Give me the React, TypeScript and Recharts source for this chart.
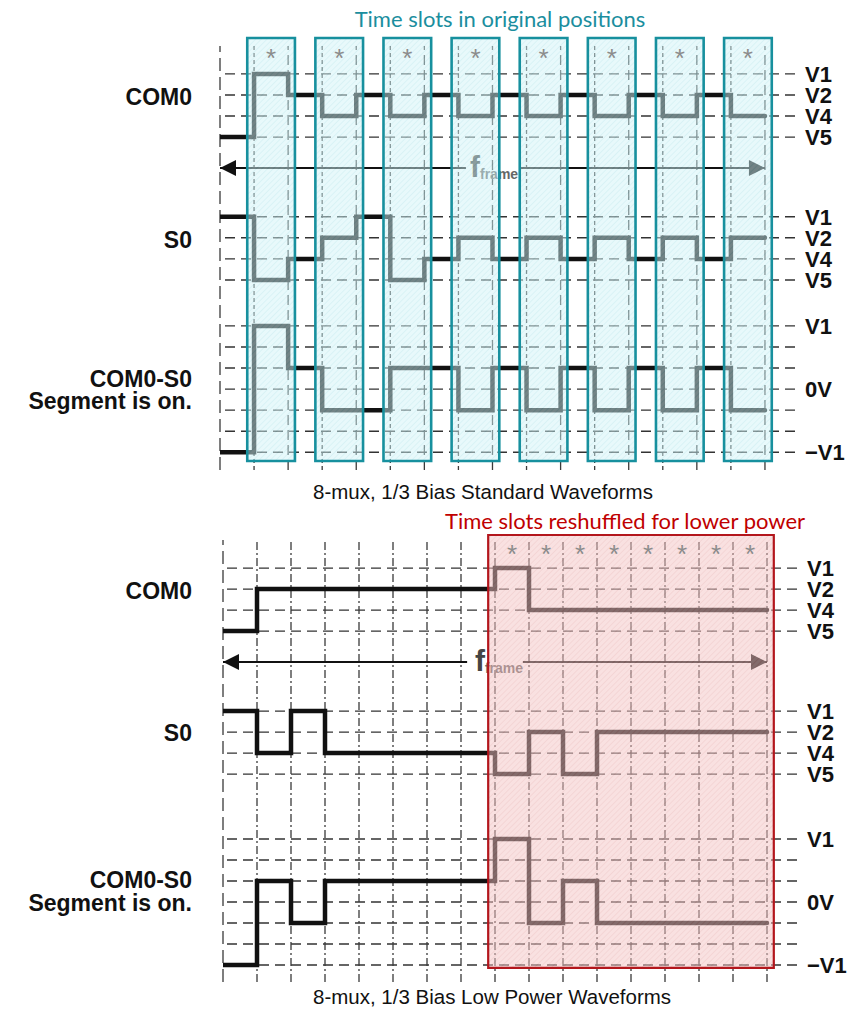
import React from "react";
import {
  ComposedChart,
  Line,
  XAxis,
  YAxis,
  ReferenceLine,
  ReferenceArea,
  ReferenceDot,
} from "recharts";

// levels: 0 = V5, 1 = V4, 2 = V2, 3 = V1 (one entry per half slot)
const stdCom0 = [0, 3, 2, 1, 2, 1, 2, 1, 2, 1, 2, 1, 2, 1, 2, 1];
const stdS0 = [3, 0, 1, 2, 3, 0, 1, 2, 1, 2, 1, 2, 1, 2, 1, 2];
const stdDiff = [-3, 3, 1, -1, -1, 1, 1, -1, 1, -1, 1, -1, 1, -1, 1, -1];

const lowCom0 = [0, 2, 2, 2, 2, 2, 2, 2, 3, 1, 1, 1, 1, 1, 1, 1];
const lowS0 = [3, 1, 3, 1, 1, 1, 1, 1, 0, 2, 0, 2, 2, 2, 2, 2];
const lowDiff = [-3, 1, -1, 1, 1, 1, 1, 1, 3, -1, 1, -1, -1, -1, -1, -1];

const driveLevels = [0, 1, 2, 3];
const driveNames = ["V5", "V4", "V2", "V1"];
const diffLevels = [-3, -2, -1, 0, 1, 2, 3];
const diffTicks = [3, 0, -3];
const diffNames = ["V1", "0V", "\u2212V1"];

// slots highlighted in the standard frame, and in the low power frame
const stdSlots = [1, 3, 5, 7, 9, 11, 13, 15];
const lowSlots = [8, 9, 10, 11, 12, 13, 14, 15];

const SLOTS = 16;

type Geometry = {
  height: number;
  plotTop: number;
  plotBottom: number;
  left: number;
  plotRight: number;
  xStep: number;
  yStep: number;
  com0Base: number;
  s0Base: number;
  diffBase: number;
  arrowY: number;
  starY: number;
  gridTop: number;
  boxBottom: number;
  frameX: number;
  arrowGap: [number, number];
};

type PanelProps = {
  geo: Geometry;
  com0: number[];
  s0: number[];
  diff: number[];
  variant: "teal" | "red";
};

function steps(levels: number[], base: number) {
  const pts = levels.map((v, i) => ({ x: i, y: base + v }));
  pts.push({ x: levels.length, y: base + levels[levels.length - 1] });
  return pts;
}

function Panel({ geo, com0, s0, diff, variant }: PanelProps) {
  const xMax = (geo.plotRight - geo.left) / geo.xStep;
  const yMax = (geo.plotBottom - geo.plotTop) / geo.yStep;

  const tickVals: number[] = [];
  const tickNames: string[] = [];
  [geo.com0Base, geo.s0Base].forEach((b) =>
    driveLevels.forEach((l, i) => {
      tickVals.push(b + l);
      tickNames.push(driveNames[i]);
    })
  );
  diffTicks.forEach((l, i) => {
    tickVals.push(geo.diffBase + l);
    tickNames.push(diffNames[i]);
  });

  const hLines = [
    ...driveLevels.map((l) => geo.com0Base + l),
    ...driveLevels.map((l) => geo.s0Base + l),
    ...diffLevels.map((l) => geo.diffBase + l),
  ];

  const renderTick = (p: any) => {
    let best = 0;
    tickVals.forEach((v, i) => {
      if (Math.abs(v - p.payload.value) < Math.abs(tickVals[best] - p.payload.value)) best = i;
    });
    return (
      <text x={p.x} y={p.y} dy={8} textAnchor="start" fontSize={22} fontWeight="bold" fill="#111">
        {tickNames[best]}
      </text>
    );
  };

  const teal = variant === "teal";
  const boxes: [number, number][] = teal
    ? stdSlots.map((s) => [s - 0.2, s + 1.2])
    : [[lowSlots[0] - 0.2, lowSlots[lowSlots.length - 1] + 1.2]];
  const stars = teal ? stdSlots : lowSlots;
  const patId = teal ? "hatch-teal" : "hatch-red";

  const vLine = (i: number) => {
    if (i === 0) return "13 6";
    if (teal) return i % 2 === 1 ? "4 3" : "10 5";
    return "8 3 2 3";
  };

  const lineProps = {
    dataKey: "y",
    type: "stepAfter" as const,
    stroke: "#111",
    strokeWidth: 4.5,
    strokeLinecap: "round" as const,
    dot: false,
    activeDot: false,
    isAnimationActive: false,
  };

  return (
    <ComposedChart
      width={853}
      height={geo.height}
      margin={{ top: geo.plotTop, bottom: geo.height - geo.plotBottom, left: geo.left, right: 0 }}
    >
      <defs>
        <pattern id="hatch-teal" width="4" height="4" patternUnits="userSpaceOnUse" patternTransform="rotate(45)">
          <rect width="4" height="4" fill="#d2f4f8" />
          <line x1="0" y1="0" x2="0" y2="4" stroke="#9fdbe3" strokeWidth="1.2" />
        </pattern>
        <pattern id="hatch-red" width="4" height="4" patternUnits="userSpaceOnUse" patternTransform="rotate(45)">
          <rect width="4" height="4" fill="#f4c4c4" />
          <line x1="0" y1="0" x2="0" y2="4" stroke="#e09a9a" strokeWidth="1.2" />
        </pattern>
      </defs>
      <XAxis dataKey="x" type="number" domain={[0, xMax]} allowDataOverflow hide />
      <YAxis
        orientation="right"
        type="number"
        domain={[0, yMax]}
        allowDataOverflow
        width={853 - geo.plotRight}
        ticks={tickVals}
        interval={0}
        tick={renderTick}
        tickSize={0}
        tickMargin={10}
        axisLine={false}
        tickLine={false}
      />

      {hLines.map((y, i) => (
        <ReferenceLine key={"h" + i} y={y} stroke="#333" strokeWidth={1.4} strokeDasharray="10 6" />
      ))}
      {Array.from({ length: SLOTS + 1 }, (_, i) => (
        <ReferenceLine
          key={"v" + i}
          segment={[
            { x: i, y: 0 },
            { x: i, y: geo.gridTop },
          ]}
          stroke="#3a3a3a"
          strokeWidth={1.3}
          strokeDasharray={vLine(i)}
        />
      ))}

      <ReferenceLine
        segment={[
          { x: 0, y: geo.arrowY },
          { x: geo.arrowGap[0], y: geo.arrowY },
        ]}
        stroke="#111"
        strokeWidth={2}
      />
      <ReferenceLine
        segment={[
          { x: geo.arrowGap[1], y: geo.arrowY },
          { x: SLOTS, y: geo.arrowY },
        ]}
        stroke="#111"
        strokeWidth={2}
      />
      <ReferenceDot
        x={0}
        y={geo.arrowY}
        r={0}
        shape={(p: any) => (
          <polygon points={`${p.cx},${p.cy} ${p.cx + 16},${p.cy - 8} ${p.cx + 16},${p.cy + 8}`} fill="#111" />
        )}
      />
      <ReferenceDot
        x={SLOTS}
        y={geo.arrowY}
        r={0}
        shape={(p: any) => (
          <polygon points={`${p.cx},${p.cy} ${p.cx - 16},${p.cy - 8} ${p.cx - 16},${p.cy + 8}`} fill="#111" />
        )}
      />
      <ReferenceDot
        x={geo.frameX}
        y={geo.arrowY}
        r={0}
        shape={(p: any) => (
          <text x={p.cx} y={p.cy + 9} fontSize={30} fontWeight="bold" fill="#444">
            f
            <tspan fontSize={14} dy={2} fill="#666">
              frame
            </tspan>
          </text>
        )}
      />

      <Line {...lineProps} data={steps(com0, geo.com0Base)} />
      <Line {...lineProps} data={steps(s0, geo.s0Base)} />
      <Line {...lineProps} data={steps(diff, geo.diffBase)} />

      {boxes.map(([x1, x2], i) => (
        <ReferenceArea
          key={"b" + i}
          x1={x1}
          x2={x2}
          y1={geo.boxBottom}
          y2={yMax}
          fill={`url(#${patId})`}
          fillOpacity={0.5}
          stroke={teal ? "#17909e" : "#b3161c"}
          strokeWidth={teal ? 2.6 : 2.2}
          zIndex={1500}
        />
      ))}

      {stars.map((s) => (
        <ReferenceDot
          key={"s" + s}
          x={s + 0.5}
          y={geo.starY}
          r={0}
          zIndex={1600}
          shape={(p: any) => (
            <text x={p.cx} y={p.cy + 11} textAnchor="middle" fontSize={26} fill="#8c8c8c">
              *
            </text>
          )}
        />
      ))}
    </ComposedChart>
  );
}

const stdGeo: Geometry = {
  height: 480,
  plotTop: 38,
  plotBottom: 470,
  left: 220,
  plotRight: 795,
  xStep: 34.06,
  yStep: 21.07,
  com0Base: 15.8,
  s0Base: 9.02,
  diffBase: 3.84,
  arrowY: 14.33,
  starY: 19.65,
  gridTop: 20.12,
  boxBottom: 0.43,
  frameX: 7.34,
  arrowGap: [7.22, 8.81],
};

const lowGeo: Geometry = {
  height: 500,
  plotTop: 35,
  plotBottom: 482,
  left: 223,
  plotRight: 797,
  xStep: 34.0,
  yStep: 21,
  com0Base: 16.71,
  s0Base: 9.9,
  diffBase: 3.81,
  arrowY: 15.24,
  starY: 20.48,
  gridTop: 21.05,
  boxBottom: 0.67,
  frameX: 7.41,
  arrowGap: [7.18, 8.82],
};

const abs = (left: number, top: number, extra: React.CSSProperties = {}): React.CSSProperties => ({
  position: "absolute",
  left,
  top,
  whiteSpace: "nowrap",
  ...extra,
});

const rowLabel: React.CSSProperties = {
  fontSize: 23,
  fontWeight: "bold",
  color: "#111",
  transform: "translate(-100%, -50%)",
};

export default function App() {
  return (
    <div
      style={{
        position: "absolute",
        left: 0,
        top: 0,
        width: 853,
        height: 1010,
        background: "#fff",
        fontFamily: '"Liberation Sans", Arial, sans-serif',
        overflow: "hidden",
      }}
    >
      <div style={abs(0, 0)}>
        <Panel geo={stdGeo} com0={stdCom0} s0={stdS0} diff={stdDiff} variant="teal" />
      </div>
      <div style={abs(0, 500)}>
        <Panel geo={lowGeo} com0={lowCom0} s0={lowS0} diff={lowDiff} variant="red" />
      </div>

      <div style={abs(500, 18, { transform: "translate(-50%, -50%)", fontFamily: "Lato, sans-serif", fontSize: 22, color: "#1b8e9e" })}>
        Time slots in original positions
      </div>
      <div style={abs(625, 520, { transform: "translate(-50%, -50%)", fontFamily: "Lato, sans-serif", fontSize: 22, color: "#c00000" })}>
        Time slots reshuffled for lower power
      </div>
      <div style={abs(313, 492, { transform: "translate(0, -50%)", fontSize: 20.5, color: "#111" })}>
        8-mux, 1/3 Bias Standard Waveforms
      </div>
      <div style={abs(313, 997, { transform: "translate(0, -50%)", fontSize: 20.5, color: "#111" })}>
        8-mux, 1/3 Bias Low Power Waveforms
      </div>

      <div style={abs(192, 97, rowLabel)}>COM0</div>
      <div style={abs(192, 240, rowLabel)}>S0</div>
      <div style={abs(192, 379, rowLabel)}>COM0-S0</div>
      <div style={abs(192, 401, rowLabel)}>Segment is on.</div>

      <div style={abs(192, 591, rowLabel)}>COM0</div>
      <div style={abs(192, 733, rowLabel)}>S0</div>
      <div style={abs(192, 880, rowLabel)}>COM0-S0</div>
      <div style={abs(192, 903, rowLabel)}>Segment is on.</div>
    </div>
  );
}
